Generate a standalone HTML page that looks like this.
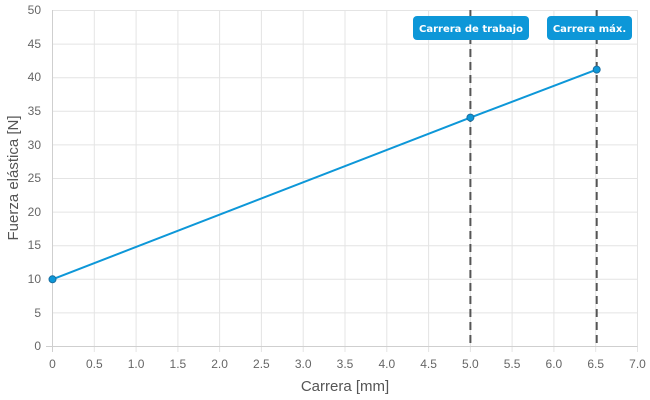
<!DOCTYPE html>
<html><head><meta charset="utf-8"><style>body{margin:0;background:#fff}svg{display:block}</style></head><body>
<svg width="650" height="400" xmlns="http://www.w3.org/2000/svg" font-family="Liberation Sans, sans-serif">
<g stroke="#e4e4e4" stroke-width="1">
<line x1="52.5" y1="10.5" x2="637.5" y2="10.5"/><line x1="52.5" y1="44.1" x2="637.5" y2="44.1"/><line x1="52.5" y1="77.7" x2="637.5" y2="77.7"/><line x1="52.5" y1="111.3" x2="637.5" y2="111.3"/><line x1="52.5" y1="144.9" x2="637.5" y2="144.9"/><line x1="52.5" y1="178.5" x2="637.5" y2="178.5"/><line x1="52.5" y1="212.1" x2="637.5" y2="212.1"/><line x1="52.5" y1="245.7" x2="637.5" y2="245.7"/><line x1="52.5" y1="279.3" x2="637.5" y2="279.3"/><line x1="52.5" y1="312.9" x2="637.5" y2="312.9"/>
<line x1="94.3" y1="10" x2="94.3" y2="352"/><line x1="136.1" y1="10" x2="136.1" y2="352"/><line x1="177.9" y1="10" x2="177.9" y2="352"/><line x1="219.6" y1="10" x2="219.6" y2="352"/><line x1="261.4" y1="10" x2="261.4" y2="352"/><line x1="303.2" y1="10" x2="303.2" y2="352"/><line x1="345" y1="10" x2="345" y2="352"/><line x1="386.8" y1="10" x2="386.8" y2="352"/><line x1="428.6" y1="10" x2="428.6" y2="352"/><line x1="470.4" y1="10" x2="470.4" y2="352"/><line x1="512.1" y1="10" x2="512.1" y2="352"/><line x1="553.9" y1="10" x2="553.9" y2="352"/><line x1="595.7" y1="10" x2="595.7" y2="352"/><line x1="637.5" y1="10" x2="637.5" y2="352"/>
</g>
<g stroke="#cfcfcf"><line x1="52.5" y1="10" x2="52.5" y2="352"/><line x1="46" y1="346.5" x2="637.5" y2="346.5"/></g>
<g font-size="12" fill="#666" text-anchor="end">
<text x="41" y="14">50</text><text x="41" y="48">45</text><text x="41" y="81">40</text><text x="41" y="115">35</text><text x="41" y="149">30</text><text x="41" y="182">25</text><text x="41" y="216">20</text><text x="41" y="249">15</text><text x="41" y="283">10</text><text x="41" y="317">5</text><text x="41" y="350">0</text>
</g>
<g font-size="12" fill="#666" text-anchor="middle">
<text x="52.5" y="368">0</text><text x="94.3" y="368">0.5</text><text x="136.1" y="368">1.0</text><text x="177.9" y="368">1.5</text><text x="219.6" y="368">2.0</text><text x="261.4" y="368">2.5</text><text x="303.2" y="368">3.0</text><text x="345" y="368">3.5</text><text x="386.8" y="368">4.0</text><text x="428.6" y="368">4.5</text><text x="470.4" y="368">5.0</text><text x="512.1" y="368">5.5</text><text x="553.9" y="368">6.0</text><text x="595.7" y="368">6.5</text><text x="637.5" y="368">7.0</text>
</g>
<text x="345" y="391" font-size="15" fill="#555" text-anchor="middle">Carrera [mm]</text>
<text transform="translate(18,178) rotate(-90)" font-size="15" fill="#555" text-anchor="middle">Fuerza elástica [N]</text>
<g stroke="#555" stroke-width="2" stroke-dasharray="8,5"><line x1="470.4" y1="10" x2="470.4" y2="346"/><line x1="596.7" y1="10" x2="596.7" y2="346"/></g>
<polyline points="52.5,279.3 470.4,117.6 596.7,69.6" fill="none" stroke="#0d97d8" stroke-width="2"/>
<g fill="#0d97d8" stroke="#1a6fa0" stroke-width="1"><circle cx="52.5" cy="279.3" r="3.5"/><circle cx="470.4" cy="117.6" r="3.5"/><circle cx="596.7" cy="69.6" r="3.5"/></g>
<g font-family="DejaVu Sans, sans-serif" font-weight="bold" font-size="10" fill="#fff" text-anchor="middle">
<rect x="413" y="16" width="116" height="24" rx="4" fill="#0d97d8"/><text x="471" y="32">Carrera de trabajo</text>
<rect x="547" y="16" width="85" height="24" rx="4" fill="#0d97d8"/><text x="589.5" y="32">Carrera máx.</text>
</g>
</svg>
</body></html>
